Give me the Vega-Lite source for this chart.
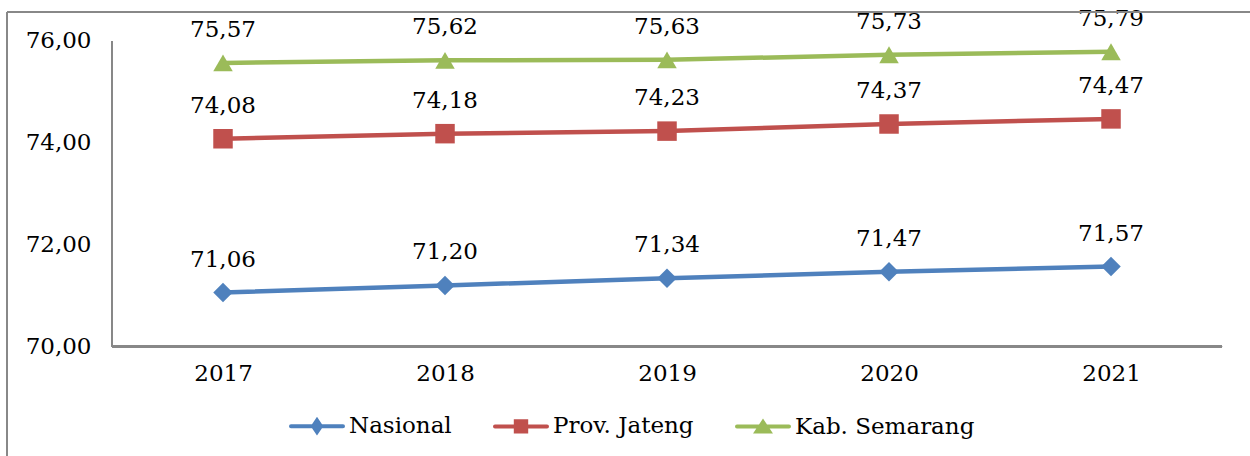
{
  "$schema": "https://vega.github.io/schema/vega-lite/v6.json",
  "width": 1243,
  "height": 444,
  "autosize": "none",
  "padding": {"left": 7, "top": 12, "right": 0, "bottom": 0},
  "background": "white",
  "config": {
    "view": {"stroke": null},
    "font": "DejaVu Serif",
    "text": {"font": "DejaVu Serif"},
    "axis": {"labelFont": "DejaVu Serif"},
    "legend": {"labelFont": "DejaVu Serif"},
    "locale": {"number": {"decimal": ",", "thousands": ".", "grouping": [3], "currency": ["Rp", ""]}}
  },
  "data": {
    "values": [
      {"year": 2017, "series": "Nasional", "v": 71.06},
      {"year": 2018, "series": "Nasional", "v": 71.20},
      {"year": 2019, "series": "Nasional", "v": 71.34},
      {"year": 2020, "series": "Nasional", "v": 71.47},
      {"year": 2021, "series": "Nasional", "v": 71.57},
      {"year": 2017, "series": "Prov. Jateng", "v": 74.08},
      {"year": 2018, "series": "Prov. Jateng", "v": 74.18},
      {"year": 2019, "series": "Prov. Jateng", "v": 74.23},
      {"year": 2020, "series": "Prov. Jateng", "v": 74.37},
      {"year": 2021, "series": "Prov. Jateng", "v": 74.47},
      {"year": 2017, "series": "Kab. Semarang", "v": 75.57},
      {"year": 2018, "series": "Kab. Semarang", "v": 75.62},
      {"year": 2019, "series": "Kab. Semarang", "v": 75.63},
      {"year": 2020, "series": "Kab. Semarang", "v": 75.73},
      {"year": 2021, "series": "Kab. Semarang", "v": 75.79}
    ]
  },
  "layer": [
    {
      "mark": {"type": "line", "strokeWidth": 4.5},
      "encoding": {
        "x": {"field": "year", "type": "quantitative",
              "scale": {"domain": [2016.027, 2021.626], "nice": false, "zero": false},
              "axis": {"values": [2017, 2018, 2019, 2020, 2021], "format": "d", "offset": -109.5,
                       "labelPadding": 16, "labelFontSize": 23, "labelColor": "black", "labelFont": "DejaVu Serif",
                       "domain": false, "ticks": false, "grid": false, "title": null}},
        "y": {"field": "v", "type": "quantitative",
              "scale": {"domain": [67.8496, 76.5695], "nice": false, "zero": false},
              "axis": {"values": [70, 72, 74, 76], "format": ".2f", "offset": -105,
                       "labelPadding": 21, "labelFontSize": 23, "labelColor": "black", "labelFont": "DejaVu Serif",
                       "domain": false, "ticks": false, "grid": false, "title": null}},
        "color": {"field": "series", "type": "nominal",
                  "scale": {"domain": ["Nasional", "Prov. Jateng", "Kab. Semarang"], "range": ["#4F81BD", "#C0504D", "#9BBB59"]},
                  "legend": {
                    "orient": "none", "legendX": 282, "legendY": 386, "direction": "horizontal", "title": null,
                    "padding": 0, "columnPadding": 35, "labelOffset": 4, "labelLimit": 400,
                    "labelFontSize": 23, "labelColor": "black", "labelFont": "DejaVu Serif",
                    "symbolSize": 2704, "symbolStrokeWidth": 4,
                    "encode": {"symbols": {"update": {
                      "shape": {"signal": "datum.value === 'Nasional' ? 'M-1,0H1M0,-0.22L0.15,0L0,0.22L-0.15,0Z' : datum.value === 'Prov. Jateng' ? 'M-1,0H1M-0.2,-0.2H0.2V0.2H-0.2Z' : 'M-1,0H1M0,-0.17L0.24,0.19H-0.24Z'"},
                      "stroke": {"scale": "color", "field": "value"},
                      "fill": {"scale": "color", "field": "value"},
                      "strokeWidth": {"value": 4},
                      "strokeCap": {"value": "round"},
                      "opacity": {"value": 1}
                    }}}
                  }}
      }
    },
    {
      "transform": [{"filter": "datum.series === 'Nasional'"}],
      "mark": {"type": "point", "filled": true, "opacity": 1, "shape": "diamond", "size": 380, "color": "#4F81BD"},
      "encoding": {
        "x": {"field": "year", "type": "quantitative", "scale": {"domain": [2016.027, 2021.626], "nice": false, "zero": false}},
        "y": {"field": "v", "type": "quantitative", "scale": {"domain": [67.8496, 76.5695], "nice": false, "zero": false}}
      }
    },
    {
      "transform": [{"filter": "datum.series === 'Prov. Jateng'"}],
      "mark": {"type": "point", "filled": true, "opacity": 1, "shape": "square", "size": 380, "color": "#C0504D"},
      "encoding": {
        "x": {"field": "year", "type": "quantitative", "scale": {"domain": [2016.027, 2021.626], "nice": false, "zero": false}},
        "y": {"field": "v", "type": "quantitative", "scale": {"domain": [67.8496, 76.5695], "nice": false, "zero": false}}
      }
    },
    {
      "transform": [{"filter": "datum.series === 'Kab. Semarang'"}],
      "mark": {"type": "point", "filled": true, "opacity": 1, "shape": "triangle-up", "size": 380, "color": "#9BBB59"},
      "encoding": {
        "x": {"field": "year", "type": "quantitative", "scale": {"domain": [2016.027, 2021.626], "nice": false, "zero": false}},
        "y": {"field": "v", "type": "quantitative", "scale": {"domain": [67.8496, 76.5695], "nice": false, "zero": false}}
      }
    },
    {
      "mark": {"type": "text", "dy": -33, "fontSize": 23, "baseline": "middle", "align": "center", "color": "black", "font": "DejaVu Serif"},
      "encoding": {
        "x": {"field": "year", "type": "quantitative", "scale": {"domain": [2016.027, 2021.626], "nice": false, "zero": false}},
        "y": {"field": "v", "type": "quantitative", "scale": {"domain": [67.8496, 76.5695], "nice": false, "zero": false}},
        "text": {"field": "v", "type": "quantitative", "format": ".2f"}
      }
    },
    {
      "mark": {"type": "rule", "color": "#888888", "strokeWidth": 1.5},
      "encoding": {
        "x": {"datum": 2016.5, "type": "quantitative"},
        "y": {"datum": 70, "type": "quantitative"},
        "y2": {"datum": 76}
      }
    },
    {
      "mark": {"type": "rule", "color": "#888888", "strokeWidth": 1.5},
      "encoding": {
        "x": {"datum": 2016.5, "type": "quantitative"},
        "x2": {"datum": 2021.5},
        "y": {"datum": 70, "type": "quantitative"}
      }
    },
    {
      "mark": {"type": "rule", "color": "#888888", "strokeWidth": 1.5},
      "encoding": {
        "x": {"datum": 2016.027, "type": "quantitative"},
        "x2": {"datum": 2021.626},
        "y": {"datum": 76.5695, "type": "quantitative"}
      }
    },
    {
      "mark": {"type": "rule", "color": "#888888", "strokeWidth": 1.5},
      "encoding": {
        "x": {"datum": 2016.027, "type": "quantitative"},
        "y": {"datum": 67.8496, "type": "quantitative"},
        "y2": {"datum": 76.5695}
      }
    }
  ]
}
